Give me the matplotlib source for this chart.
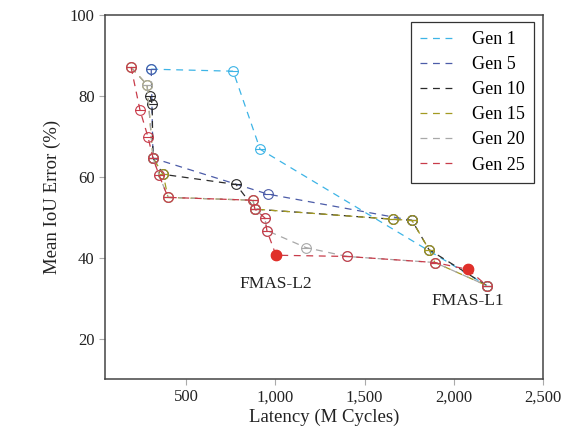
import matplotlib
matplotlib.use("Agg")
from matplotlib import pyplot as plt
from matplotlib.path import Path
from matplotlib.ticker import FuncFormatter

plt.rcParams['font.family'] = ['Liberation Serif', 'DejaVu Serif']

# datos (latencia en M ciclos, error mIoU en %)
gen1_x = [305, 764, 915, 2185]
gen1_y = [86.6, 86.1, 66.8, 33.1]

gen5_x = [305, 315, 959, 1766]
gen5_y = [86.6, 64.6, 55.7, 49.2]

gen10_x = [299, 310, 315, 372, 780, 886, 1660, 1766, 1861, 2185]
gen10_y = [79.9, 78.0, 64.6, 60.6, 58.1, 52.0, 49.5, 49.2, 42.0, 33.1]

gen15_x = [192, 282, 315, 372, 399, 875, 886, 1660, 1766, 1861, 1894, 2185]
gen15_y = [87.1, 82.7, 64.6, 60.6, 54.9, 54.2, 52.0, 49.5, 49.2, 42.0, 38.8, 33.1]

gen20_x = [192, 282, 315, 349, 399, 875, 886, 942, 953, 1171, 1401, 1894, 2185]
gen20_y = [87.1, 82.7, 64.6, 60.4, 54.9, 54.2, 52.0, 49.8, 46.7, 42.5, 40.3, 38.8, 33.1]

gen25_x = [192, 242, 287, 315, 349, 399, 875, 886, 942, 953, 1004, 1401, 1894, 2079, 2185]
gen25_y = [87.1, 76.5, 69.8, 64.6, 60.4, 54.9, 54.2, 52.0, 49.8, 46.7, 40.6, 40.3, 38.8, 37.1, 33.1]

fmas_x = [1004, 2079]
fmas_y = [40.6, 37.1]
fmas_nombres = ["FMAS-L2", "FMAS-L1"]
fmas_texto_y = [33.6, 29.2]

series = [
    ("Gen 1", gen1_x, gen1_y, '#3db4e6'),
    ("Gen 5", gen5_x, gen5_y, '#4c5ca8'),
    ("Gen 10", gen10_x, gen10_y, '#2b2b2b'),
    ("Gen 15", gen15_x, gen15_y, '#a39a22'),
    ("Gen 20", gen20_x, gen20_y, '#a8a8a8'),
    ("Gen 25", gen25_x, gen25_y, '#c83c4a'),
]

# marcador: circulo con una raya horizontal
circulo = Path.unit_circle()
raya = Path([(-1, 0), (1, 0)], [Path.MOVETO, Path.LINETO])
marcador = Path.make_compound_path(circulo, raya)

fig = plt.figure(figsize=(5.66, 4.38), dpi=100)
ax = fig.add_axes([0.1855, 0.1347, 0.7739, 0.8311])

for nombre, xs, ys, color in series:
    ax.plot(xs, ys, linestyle=(0, (5.5, 4.5)), linewidth=0.9, color=color,
            marker=marcador, markersize=7, markerfacecolor='none',
            markeredgecolor=color, markeredgewidth=0.8, label=nombre)

ax.scatter(fmas_x, fmas_y, s=55, color='#e0302a', zorder=5)
for x, ty, nombre in zip(fmas_x, fmas_texto_y, fmas_nombres):
    ax.text(x, ty, nombre, ha='center', va='center', fontsize=12.5, color='#222222')

ax.set_xlim(46, 2500)
ax.set_ylim(10, 100)
ax.set_xticks([500, 1000, 1500, 2000, 2500])
ax.set_yticks([20, 40, 60, 80, 100])
ax.xaxis.set_major_formatter(FuncFormatter(lambda v, p: f"{int(v):,}"))
ax.tick_params(direction='out', length=4, color='#aaaaaa', labelsize=12,
               labelcolor='#222222', width=0.8)
for s in ax.spines.values():
    s.set_color('#444444')
    s.set_linewidth(1.1)

ax.set_xlabel('Latency (M Cycles)', fontsize=13.5, color='#222222', labelpad=2)
ax.set_ylabel('Mean IoU Error (%)', fontsize=13.5, color='#222222', labelpad=6)

leg = ax.legend(loc='upper right', fontsize=13, fancybox=False, framealpha=1,
                edgecolor='#333333', handlelength=2.0, handletextpad=0.9,
                borderpad=0.5, labelspacing=0.45, borderaxespad=0,
                bbox_to_anchor=(0.979, 0.981))
leg.get_frame().set_linewidth(0.9)
for h in leg.get_lines():
    h.set_marker('')

fig.savefig('out.png', dpi=100)
